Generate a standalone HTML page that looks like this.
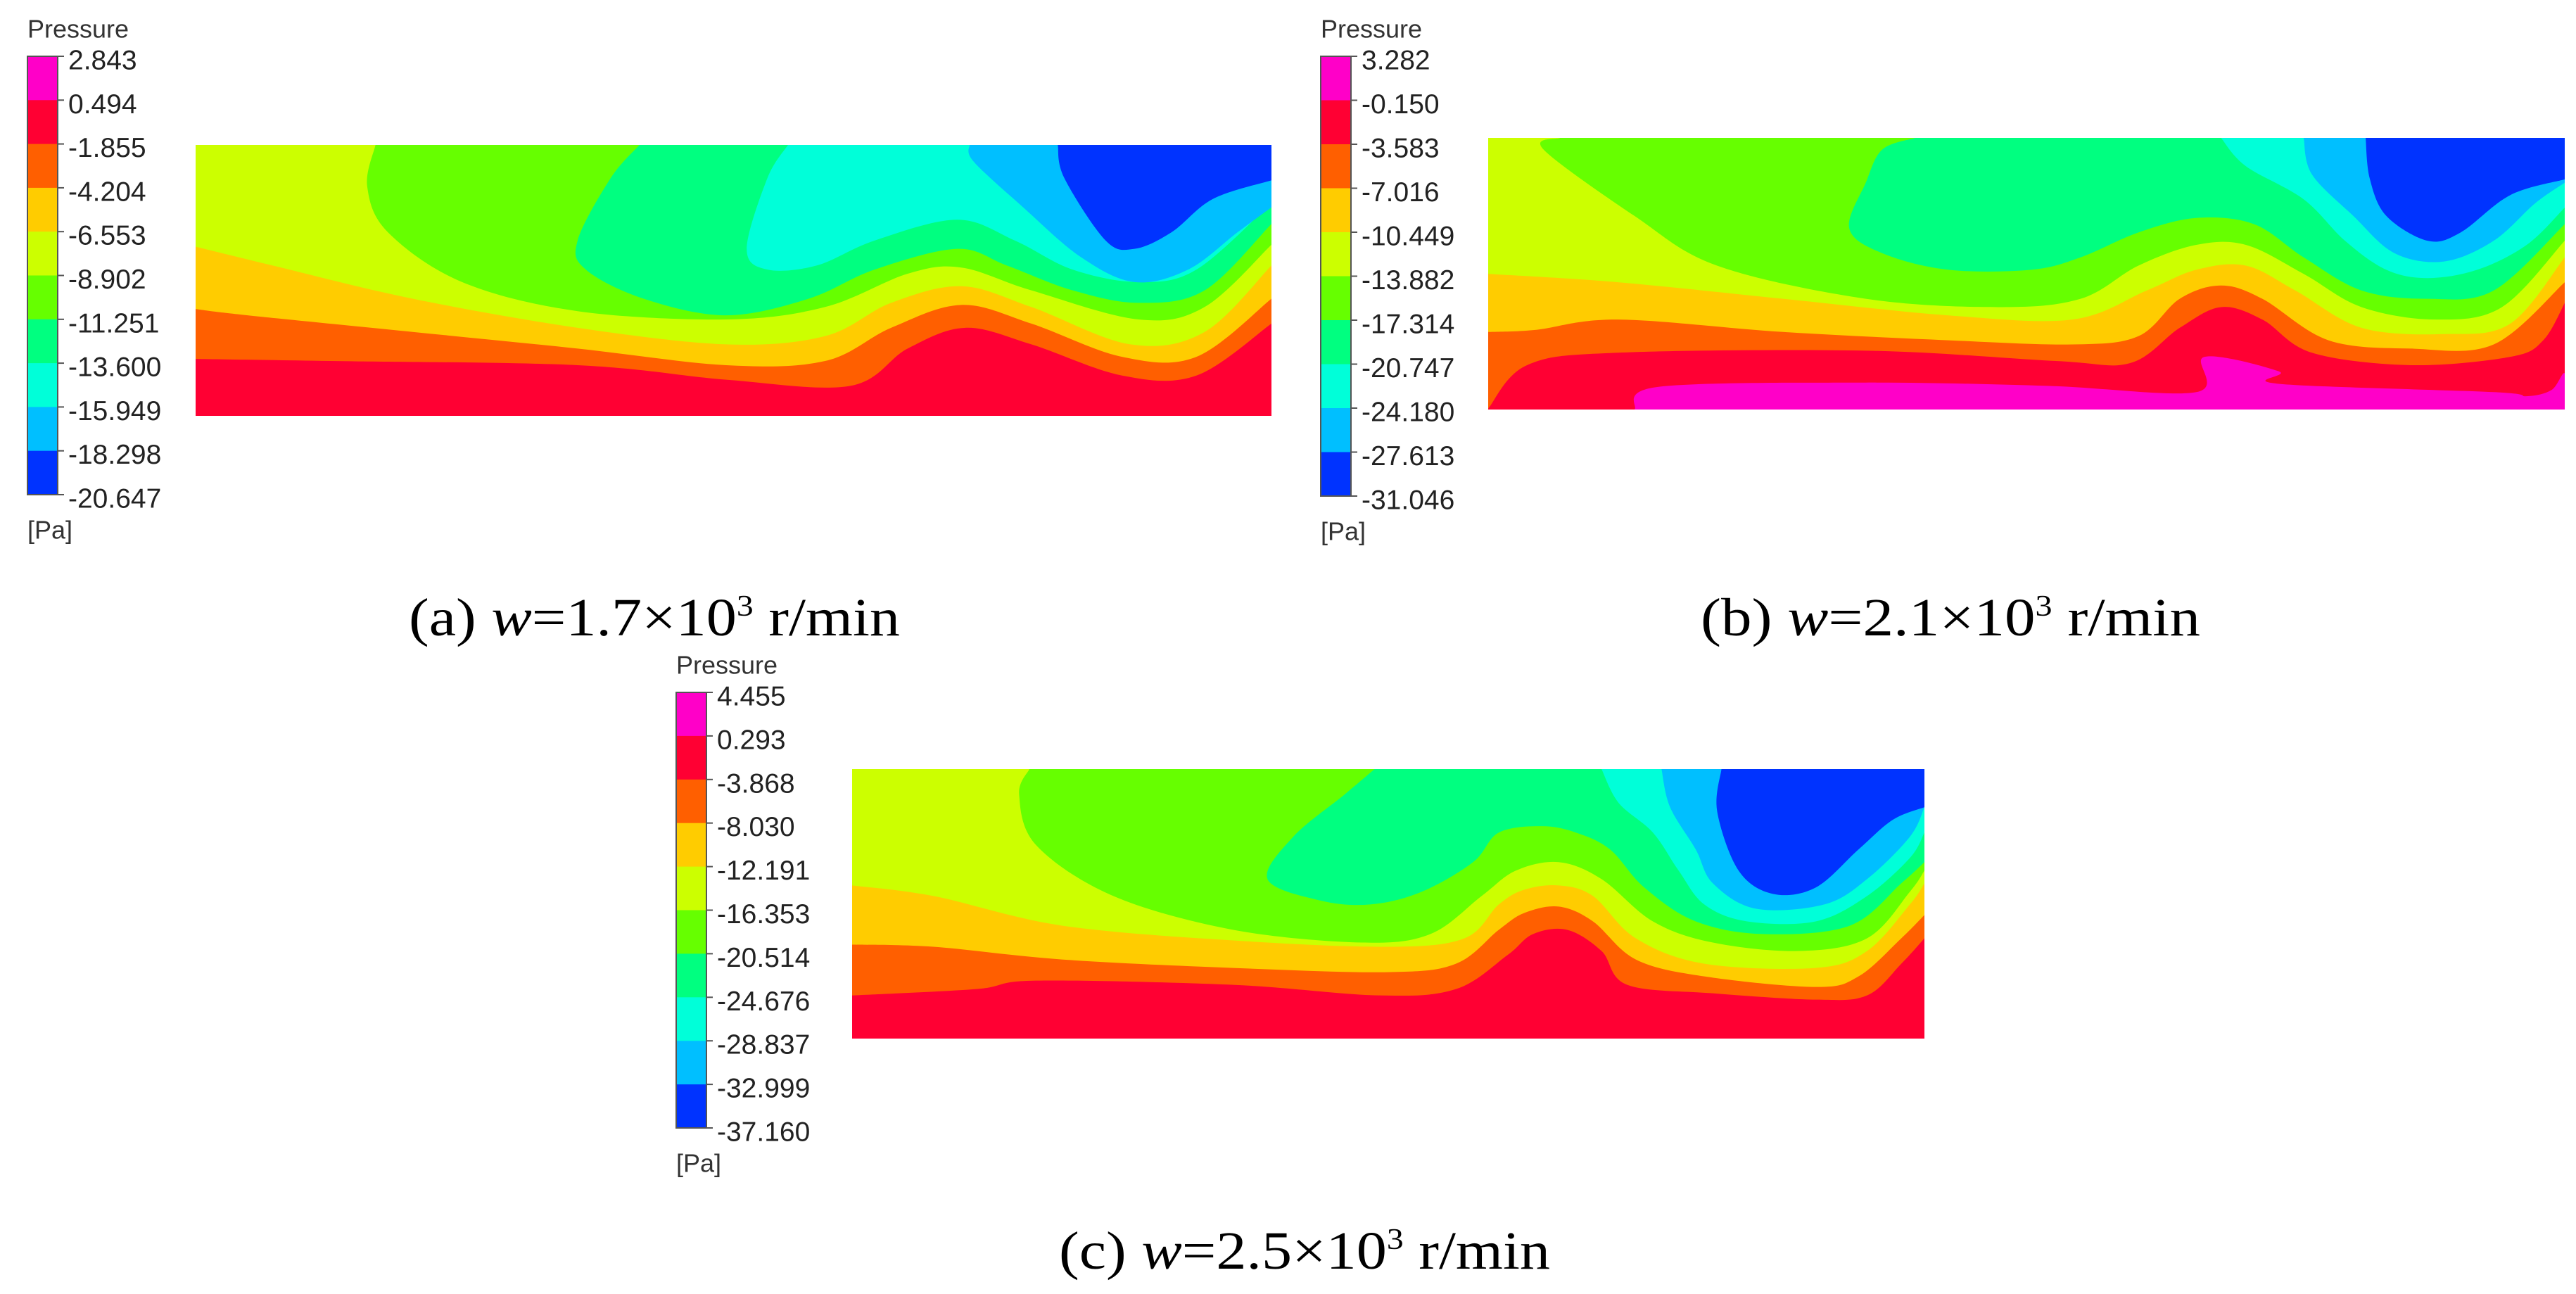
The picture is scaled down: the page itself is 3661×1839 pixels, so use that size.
<!DOCTYPE html>
<html><head><meta charset="utf-8"><style>
html,body{margin:0;padding:0;background:#fff;}
svg{display:block;}
</style></head><body>
<svg id="fig" xmlns="http://www.w3.org/2000/svg" width="3661" height="1839" viewBox="0 0 3661 1839"></svg>
<script>
const NS='http://www.w3.org/2000/svg';
const bandColors=['#ff00c8','#ff0033','#ff5f00','#ffcc00','#ccff00','#66ff00','#00ff80','#00ffd9','#00bfff','#0033ff'];
const ticksA=['2.843','0.494','-1.855','-4.204','-6.553','-8.902','-11.251','-13.600','-15.949','-18.298','-20.647'];
const ticksB=['3.282','-0.150','-3.583','-7.016','-10.449','-13.882','-17.314','-20.747','-24.180','-27.613','-31.046'];
const ticksC=['4.455','0.293','-3.868','-8.030','-12.191','-16.353','-20.514','-24.676','-28.837','-32.999','-37.160'];

const aOrange=[[237,865],[400,870],[700,880],[880,915],[1030,930],[1100,840],[1170,790],[1250,830],[1360,905],[1450,905],[1541,780]];
const aYellow=[[237,745],[300,760],[500,800],[700,840],[880,880],[1000,870],[1080,790],[1165,735],[1250,780],[1360,860],[1450,860],[1541,720]];
const aYG=[[237,595],[330,640],[500,720],[700,790],[880,830],[1000,810],[1080,730],[1165,690],[1250,740],[1370,830],[1460,800],[1541,640]];
const aLime=[[455,350],[445,450],[470,560],[560,680],[700,750],[880,770],[1000,740],[1100,660],[1165,645],[1250,700],[1380,770],[1460,740],[1541,590]];
const aGreen=[[775,350],[740,430],[700,580],[710,650],[780,720],[880,760],[980,720],[1060,650],[1160,600],[1220,640],[1300,700],[1380,730],[1460,700],[1541,540]];
const aCyan=[[955,350],[930,430],[905,600],[930,650],[990,640],[1060,580],[1160,530],[1230,580],[1300,650],[1380,680],[1450,650],[1541,490]];
const aSky=[[1175,350],[1180,390],[1240,500],[1310,620],[1375,680],[1440,650],[1500,560],[1541,500]];
const aBlue=[[1282,350],[1290,430],[1340,580],[1375,600],[1420,560],[1470,480],[1541,435]];

const bMagenta=[[420,987],[450,932],[700,922],[920,930],[1100,945],[1110,860],[1200,895],[1200,925],[1460,945],[1500,955],[1530,940],[1546,900],[1546,987]];
const bOrange=[[243,985],[290,880],[400,850],[700,845],[930,870],[1020,875],[1080,790],[1130,740],[1180,770],[1240,850],[1360,880],[1480,860],[1520,820],[1546,730]];
const bYellow=[[243,800],[300,795],[400,770],[600,800],[800,820],[950,830],[1030,810],[1080,720],[1130,688],[1180,720],[1260,820],[1360,840],[1460,830],[1546,680]];
const bYG=[[243,660],[400,680],[600,720],[800,760],[950,770],[1040,700],[1100,650],[1160,640],[1220,700],[1300,790],[1400,805],[1480,780],[1546,620]];
const bLime=[[330,332],[310,360],[420,520],[520,640],[700,720],[860,740],[960,720],[1030,640],[1100,590],[1160,590],[1230,660],[1300,740],[1390,770],[1470,740],[1546,580]];
const bGreen=[[760,332],[720,360],[700,440],[680,550],[720,610],[800,650],[900,650],[960,620],[1030,560],[1100,525],[1170,540],[1230,620],[1300,700],[1380,720],[1460,700],[1546,540]];
const bCyan=[[1130,332],[1160,400],[1230,480],[1280,580],[1330,650],[1380,670],[1440,650],[1500,590],[1546,500]];
const bSky=[[1230,332],[1240,420],[1290,520],[1340,610],[1400,630],[1460,580],[1510,490],[1546,440]];
const bBlue=[[1305,332],[1310,430],[1330,520],[1380,580],[1420,560],[1480,470],[1546,432]];

const cOrange=[[255,855],[400,840],[470,820],[700,830],[870,855],[960,840],[1020,760],[1050,710],[1090,700],[1130,750],[1160,830],[1260,850],[1380,865],[1440,855],[1480,780],[1507,720]];
const cYellow=[[255,735],[350,740],[500,770],[700,790],[880,800],[960,780],[1010,700],[1040,660],[1080,645],[1120,680],[1170,770],[1250,810],[1380,835],[1430,810],[1480,720],[1507,665]];
const cYG=[[255,595],[350,620],[500,690],[700,725],[880,740],[970,720],[1010,640],[1040,605],[1080,595],[1120,620],[1170,720],[1250,780],[1380,790],[1440,750],[1490,640],[1507,590]];
const cLime=[[462,320],[450,380],[470,500],[560,620],[700,700],[850,730],[930,710],[990,620],[1030,560],[1080,540],[1130,580],[1190,680],[1260,730],[1360,750],[1440,720],[1490,610],[1507,560]];
const cGreen=[[865,320],[830,380],[770,480],[740,580],[800,630],[860,640],[920,610],[980,540],[1010,470],[1060,455],[1100,470],[1140,510],[1180,600],[1240,680],[1320,710],[1420,690],[1480,590],[1507,540]];
const cCyan=[[1130,320],[1150,400],[1190,470],[1220,560],[1250,640],[1300,680],[1380,680],[1440,620],[1490,530],[1507,470]];
const cSky=[[1200,320],[1210,410],[1240,510],[1260,590],[1310,650],[1390,640],[1440,580],[1490,480],[1507,410]];
const cBlue=[[1270,320],[1265,420],[1290,560],[1330,615],[1380,600],[1430,510],[1470,440],[1507,410]];

const svg=document.getElementById('fig');
function mk(tag,attrs,parent){const e=document.createElementNS(NS,tag);for(const k in attrs)e.setAttribute(k,attrs[k]);(parent||svg).appendChild(e);return e;}

function smooth(pts){
  let d='M'+pts[0][0]+','+pts[0][1];
  for(let i=0;i<pts.length-1;i++){
    const p0=pts[i-1]||pts[i],p1=pts[i],p2=pts[i+1],p3=pts[i+2]||p2;
    const c1=[p1[0]+(p2[0]-p0[0])/6,p1[1]+(p2[1]-p0[1])/6];
    const c2=[p2[0]-(p3[0]-p1[0])/6,p2[1]-(p3[1]-p1[1])/6];
    d+=' C'+c1.join(',')+' '+c2.join(',')+' '+p2.join(',');
  }
  return d;
}

function drawPanel(id,box,src,layers,ticks,leg,cap){
  const g=mk('svg',{x:box[0],y:box[1],width:box[2],height:box[3],viewBox:src.join(' '),preserveAspectRatio:'none'});
  
  
  const xL=src[0],yT=src[1],xR=src[0]+src[2];
  const base=mk('rect',{x:xL,y:yT,width:src[2],height:src[3],fill:bandColors[1]},g);
  
  
  layers.forEach(([pts,ci,closed])=>{
    let d=smooth(pts);
    if(!closed){d+=' L'+xR+','+yT; if(pts[0][0]<=xL+1)d+=' L'+xL+','+yT;}
    d+=' Z';
    const poly=mk('path',{d:d,fill:bandColors[ci]},g);
    
    
  });
  const [L,T,H]=leg; const step=H/10;
  const t=mk('text',{x:L,y:T-39,'font-family':'Liberation Sans, sans-serif','font-size':36,fill:'#333','dominant-baseline':'central'});
  t.textContent='Pressure';
  
  
  for(let i=0;i<10;i++){
    const r=mk('rect',{x:L,y:T+i*step,width:43,height:step+0.5,fill:bandColors[i]});
    
    
  }
  mk('rect',{x:L,y:T,width:43,height:H,fill:'none',stroke:'#555','stroke-width':2});
  ticks.forEach((lab,i)=>{
    const y=T+i*step;
    mk('line',{x1:L+43,x2:L+52,y1:y,y2:y,stroke:'#555','stroke-width':2});
    const tx=mk('text',{x:L+58,y:y+6,'font-family':'Liberation Sans, sans-serif','font-size':39,fill:'#222','dominant-baseline':'central'});
    tx.textContent=lab;
    
    
  });
  const u=mk('text',{x:L,y:T+H+50,'font-family':'Liberation Sans, sans-serif','font-size':36,fill:'#333','dominant-baseline':'central'});
  u.textContent='[Pa]';
  
  
  const c=mk('text',{x:cap[0],y:cap[1]+24,'text-anchor':'middle','font-family':'Liberation Serif, serif','font-size':76,fill:'#000',textLength:cap[2],lengthAdjust:'spacingAndGlyphs'});
  
  
  const s1=mk('tspan',{},c);s1.textContent='('+id.slice(-1)+') ';
  const s2=mk('tspan',{'font-style':'italic'},c);s2.textContent='w';
  const s3=mk('tspan',{},c);s3.textContent='='+cap[3]+'×10';
  const s4=mk('tspan',{'font-size':42,dy:-28},c);s4.textContent='3';
  const s5=mk('tspan',{dy:28},c);s5.textContent=' r/min';
}

drawPanel('panel-a',[278,206,1529,385],[237,350,1304,652],
  [[aOrange,2],[aYellow,3],[aYG,4],[aLime,5],[aGreen,6],[aCyan,7],[aSky,8],[aBlue,9]],
  ticksA,[39,80,623],[930,879,698,'1.7']);
drawPanel('panel-b',[2115,196,1530,386],[243,332,1303,655],
  [[bMagenta,0,true],[bOrange,2],[bYellow,3],[bYG,4],[bLime,5],[bGreen,6],[bCyan,7],[bSky,8],[bBlue,9]],
  ticksB,[1877,80,625],[2772,879,710,'2.1']);
drawPanel('panel-c',[1211,1093,1524,383],[255,320,1252,637],
  [[cOrange,2],[cYellow,3],[cYG,4],[cLime,5],[cGreen,6],[cCyan,7],[cSky,8],[cBlue,9]],
  ticksC,[961,984,619],[1854,1779,698,'2.5']);
</script>
</body></html>
